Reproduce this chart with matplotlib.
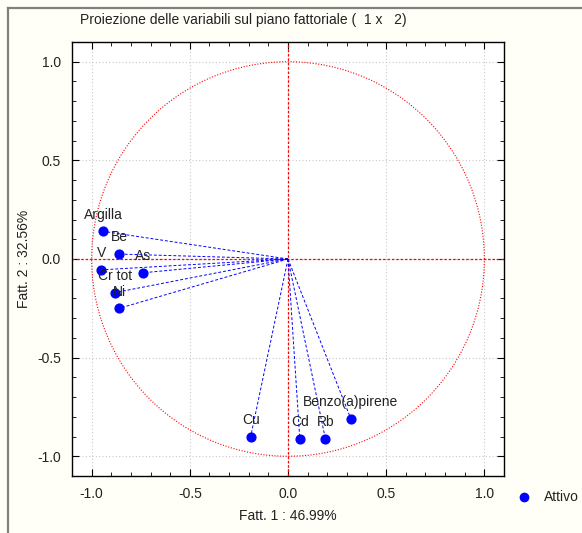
import numpy as np
import matplotlib
matplotlib.use("Agg")
import matplotlib.pyplot as plt
from matplotlib.ticker import MultipleLocator
from matplotlib.lines import Line2D

plt.rcParams['font.family'] = ['Liberation Sans', 'DejaVu Sans']

# --- variable coordinates on factor 1 x factor 2 ---
labels = ["Argilla", "Be", "V", "As", "Cr tot", "Ni",
          "Cu", "Cd", "Rb", "Benzo(a)pirene"]
fatt1 = [-0.94, -0.86, -0.95, -0.74, -0.88, -0.86, -0.19, 0.06, 0.19, 0.32]
fatt2 = [0.14, 0.025, -0.055, -0.07, -0.17, -0.25, -0.90, -0.91, -0.91, -0.81]

bg = '#fffff7'
fig = plt.figure(figsize=(5.82, 5.33), dpi=100, facecolor=bg)
ax = fig.add_axes([72 / 582, 57 / 533, 432 / 582, 434 / 533])
ax.set_facecolor('white')

# unit circle and axes through origin
t = np.linspace(0, 2 * np.pi, 400)
ax.plot(np.cos(t), np.sin(t), color='red', lw=0.8, ls=(0, (1, 1.5)), zorder=2)
ax.axhline(0, color='red', lw=0.9, ls=(0, (2, 1.5)), zorder=2)
ax.axvline(0, color='red', lw=0.9, ls=(0, (2, 1.5)), zorder=2)

for x, y, lab in zip(fatt1, fatt2, labels):
    ax.plot([0, x], [0, y], color='blue', lw=0.7, ls=(0, (3, 2)), zorder=3)
    ax.annotate(lab, (x, y), xytext=(0, 7), textcoords='offset points',
                ha='center', va='bottom', fontsize=10, color='#222222', zorder=5)
ax.scatter(fatt1, fatt2, s=40, color='blue', zorder=4)

ax.set_xlim(-1.1, 1.1)
ax.set_ylim(-1.1, 1.1)
ax.xaxis.set_major_locator(MultipleLocator(0.5))
ax.yaxis.set_major_locator(MultipleLocator(0.5))
ax.xaxis.set_minor_locator(MultipleLocator(0.1))
ax.yaxis.set_minor_locator(MultipleLocator(0.1))
ax.xaxis.set_major_formatter(lambda v, p: f"{v:.1f}")
ax.yaxis.set_major_formatter(lambda v, p: f"{v:.1f}")
ax.tick_params(which='both', direction='in', top=True, right=True,
               labelsize=10, labelcolor='#222222')
ax.tick_params(which='major', length=5, pad=8)
ax.tick_params(which='minor', length=3)
ax.grid(True, which='major', color='#c8c8c8', ls=(0, (1, 2)), lw=0.8)
for s in ax.spines.values():
    s.set_linewidth(1.0)

ax.set_xlabel("Fatt. 1 : 46.99%", fontsize=10, color='#222222', labelpad=6)
ax.set_ylabel("Fatt. 2 : 32.56%", fontsize=10, color='#222222', labelpad=4)
fig.text(80 / 582, 1 - 20 / 533, "Proiezione delle variabili sul piano fattoriale (  1 x   2)",
         fontsize=10, color='#222222', ha='left', va='center')

# legend, drawn by hand so it fits the right edge
fig.add_artist(Line2D([524 / 582], [1 - 497 / 533], marker='o', color='blue',
                      ls='none', markersize=6))
fig.text(544 / 582, 1 - 497 / 533, "Attivo", fontsize=10, color='#222222',
         ha='left', va='center')

# outer frame (left and top only)
fig.add_artist(Line2D([7.5 / 582, 7.5 / 582], [0, 1 - 7.5 / 533], color='#808080', lw=1.6))
fig.add_artist(Line2D([7.5 / 582, 1], [1 - 7.5 / 533, 1 - 7.5 / 533], color='#808080', lw=1.6))

fig.savefig("out.png", dpi=100, facecolor=bg)
